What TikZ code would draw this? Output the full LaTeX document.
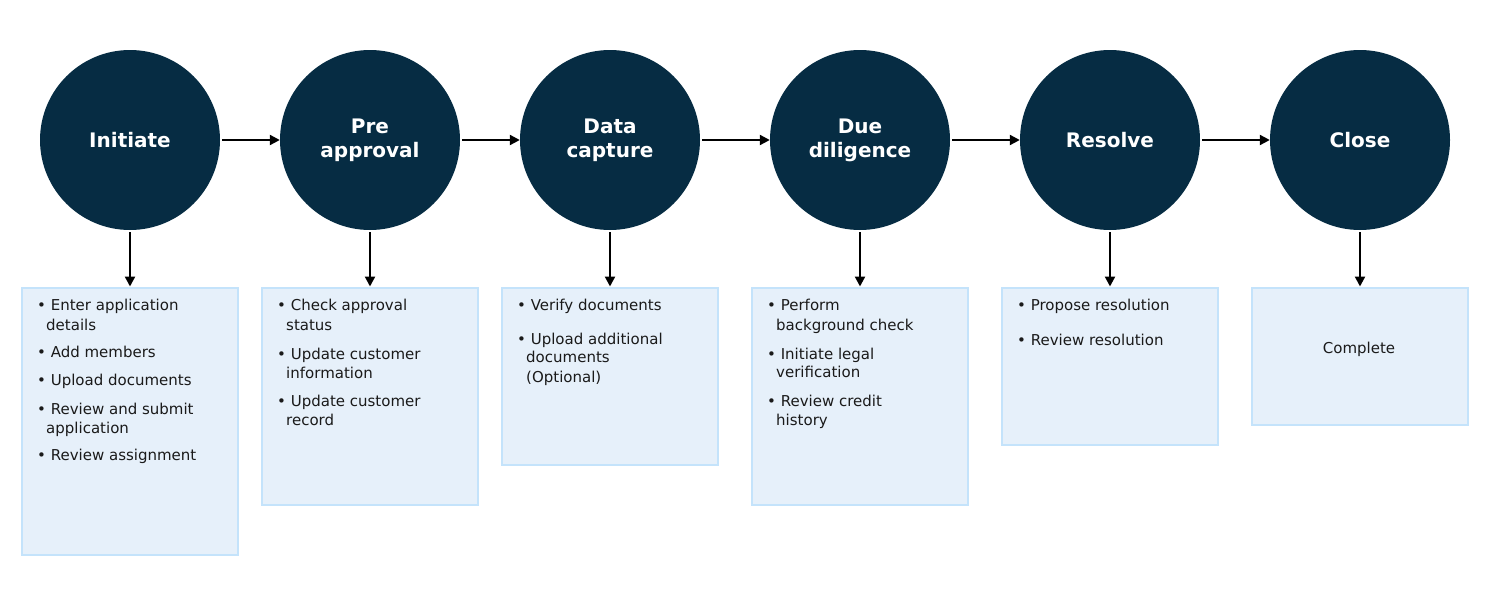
\documentclass[tikz,border=0pt]{standalone}
\usepackage{fontspec}
\setmainfont{DejaVu Sans}
\usetikzlibrary{arrows.meta}
\definecolor{navy}{HTML}{062C43}
\definecolor{boxfill}{HTML}{E6F0FA}
\definecolor{boxline}{HTML}{C4E3FB}
\definecolor{txt}{HTML}{1A1A1A}
\begin{document}
\begin{tikzpicture}[x=1pt,y=-1pt,
  stage/.style={circle, fill=navy, minimum size=180pt, inner sep=0pt, text=white,
    font=\fontsize{20}{24}\selectfont\bfseries, align=center},
  card/.style={draw=boxline, line width=2pt, fill=boxfill, minimum width=216pt,
    inner sep=0pt, anchor=north west},
  tl/.style={anchor=base west, inner sep=0pt, text=txt, font=\fontsize{15}{19}\selectfont},
  flow/.style={-{Triangle[length=10pt,width=10pt]}, line width=2.2pt, black, shorten <=2pt}
]
\useasboundingbox (0,0) rectangle (1500,600);

% stages
\node[stage] (s1) at (130,140) {Initiate};
\node[stage] (s2) at (370,140) {Pre\\approval};
\node[stage] (s3) at (610,140) {Data\\capture};
\node[stage] (s4) at (860,140) {Due\\diligence};
\node[stage] (s5) at (1110,140) {Resolve};
\node[stage] (s6) at (1360,140) {Close};

% cards
\node[card, minimum height=267.6pt] (b1) at (21,286.5) {};
\node[card, minimum height=217.6pt] (b2) at (261,286.5) {};
\node[card, minimum height=177.6pt] (b3) at (501,286.5) {};
\node[card, minimum height=217.6pt] (b4) at (751,286.5) {};
\node[card, minimum height=157.6pt] (b5) at (1001,286.5) {};
\node[card, minimum height=137.6pt] (b6) at (1251,286.5) {};

% horizontal flow
\draw[flow] (s1) -- (s2);
\draw[flow] (s2) -- (s3);
\draw[flow] (s3) -- (s4);
\draw[flow] (s4) -- (s5);
\draw[flow] (s5) -- (s6);

% vertical flow
\foreach \i in {1,...,6}{
  \draw[flow] (s\i.south) -- (s\i.south |- b\i.north);
}

% card 1 text
\node[tl] (t11) at (37,310.7) {\textbullet\ Enter application};
\node[tl] (t12) at (46,330) {details};
\node[tl] (t13) at (37,357.7) {\textbullet\ Add members};
\node[tl] (t14) at (37,385.7) {\textbullet\ Upload documents};
\node[tl] (t15) at (37,414) {\textbullet\ Review and submit};
\node[tl] (t16) at (46,433.3) {application};
\node[tl] (t17) at (37,460.7) {\textbullet\ Review assignment};

% card 2 text
\node[tl] (t21) at (277,310.7) {\textbullet\ Check approval};
\node[tl] (t22) at (286,330) {status};
\node[tl] (t23) at (277,359) {\textbullet\ Update customer};
\node[tl] (t24) at (286,378) {information};
\node[tl] (t25) at (277,406.7) {\textbullet\ Update customer};
\node[tl] (t26) at (286,425.7) {record};

% card 3 text
\node[tl] (t31) at (517,310) {\textbullet\ Verify documents};
\node[tl] (t32) at (517,344) {\textbullet\ Upload additional};
\node[tl] (t33) at (526,362.7) {documents};
\node[tl] (t34) at (526,382) {(Optional)};

% card 4 text
\node[tl] (t41) at (767,310.7) {\textbullet\ Perform};
\node[tl] (t42) at (776,330) {background check};
\node[tl] (t43) at (767,359.3) {\textbullet\ Initiate legal};
\node[tl] (t44) at (776,377.7) {verification};
\node[tl] (t45) at (767,406.7) {\textbullet\ Review credit};
\node[tl] (t46) at (776,425.7) {history};

% card 5 text
\node[tl] (t51) at (1017,310) {\textbullet\ Propose resolution};
\node[tl] (t52) at (1017,345.7) {\textbullet\ Review resolution};

% card 6 text
\node[text=txt, inner sep=0pt, font=\fontsize{15}{19}\selectfont] (t61) at (1359,349) {Complete};
\end{tikzpicture}
\end{document}
